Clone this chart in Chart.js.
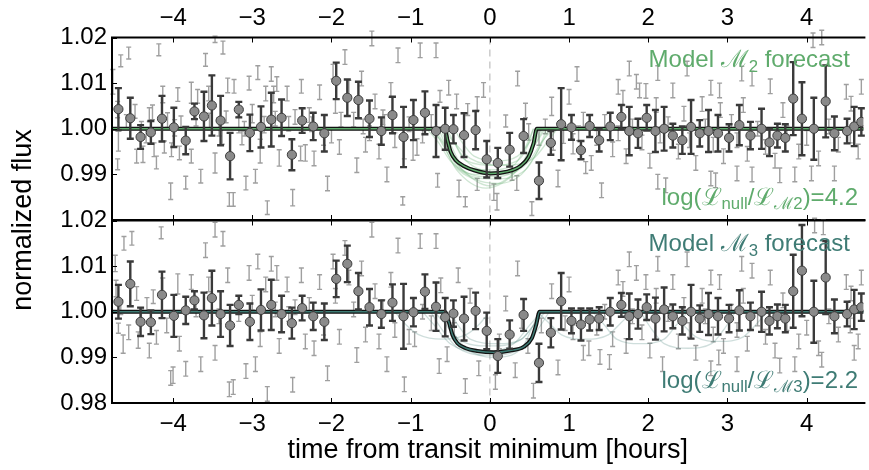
<!DOCTYPE html>
<html>
<head>
<meta charset="utf-8">
<script src="https://cdn.jsdelivr.net/npm/chart.js@4.4.1/dist/chart.umd.min.js"></script>
<style>
  html, body { margin: 0; padding: 0; background: #fff; }
  #wrap { position: relative; width: 869px; height: 470px; }
  #wrap canvas { position: absolute; left: 0; top: 0; }
</style>
</head>
<body>
<div id="wrap">
  <canvas id="panelM2" width="869" height="470"></canvas>
  <canvas id="panelM3" width="869" height="470"></canvas>
</div>
<script>
// ---------------- data ----------------
// flux deviations are in parts per thousand (ppt) around 1.00
const xTickValues = [-4, -3, -2, -1, 0, 1, 2, 3, 4];
const yTickValues = [0.98, 0.99, 1.00, 1.01, 1.02];

// binned photometry, hours from transit minimum
const binTime = [
  -4.69, -4.54, -4.41, -4.28, -4.14, -3.99, -3.84, -3.73, -3.61, -3.51, -3.40, -3.28, -3.17, -3.03, -2.89, -2.76, -2.63, -2.50, -2.37,
  -2.23, -2.09, -1.94, -1.80, -1.66, -1.52, -1.37, -1.23,
  -1.09, -0.965, -0.82, -0.68, -0.564, -0.46, -0.326, -0.18, -0.04, 0.10, 0.25, 0.426, 0.62, 0.77, 0.90, 1.03, 1.15, 1.26,
  1.38, 1.52, 1.66, 1.76, 1.87, 1.98, 2.09, 2.20, 2.31, 2.43, 2.54, 2.65, 2.76, 2.88, 3.02, 3.15, 3.29, 3.43, 3.53, 3.63,
  3.73, 3.83, 3.94, 4.09, 4.24, 4.35, 4.51, 4.60, 4.69
];

// model M2 panel
const binDevM2 = [
  4.3, 2.3, -1.8, -0.8, 2.2, 0.3, -2.6, 3.8, 2.7, 5.1, 1.8, -6.0, 4.2, -0.9, 0.4, 2.0, 2.4, -5.7, 1.8,
  0.5, -1.0, 10.5, 6.8, 6.3, 2.2, -0.5, 3.0,
  -1.8, 1.9, 3.5, -0.5, 0.0, -0.1, -1.4, -0.3, -6.7, -7.5, -4.6, -1.6, -11.4, -3.1, 1.0, 0.3, -4.7, 0.6,
  -2.5, 0.5, 2.6, -0.5, -1.0, 2.4, -0.5, 0.0, -1.5, -2.5, 0.4, -1.0, -0.5, -1.0, -2.0, 0.8, -1.5, 0.0, -3.0, -1.5,
  -2.0, 6.6, 2.2, 0.0, 6.0, -1.0, -0.5, 0.5, 1.5
];
const binErrM2 = [
  4.6, 4.5, 2.6, 2.5, 5.0, 4.3, 3.0, 1.7, 5.4, 6.6, 5.4, 5.1, 1.7, 4.0, 4.5, 5.9, 4.0, 3.4, 2.7,
  3.0, 4.0, 4.0, 4.0, 4.0, 4.0, 3.0, 4.0,
  6.6, 4.4, 4.7, 5.7, 4.6, 3.1, 4.8, 4.2, 4.0, 3.3, 3.7, 3.7, 4.0, 2.6, 7.9, 2.7, 2.0, 2.4,
  2.5, 3.0, 2.6, 5.3, 3.2, 2.8, 4.6, 4.8, 2.6, 3.0, 5.9, 2.9, 4.6, 4.0, 3.0, 4.4, 3.0, 4.4, 3.0, 2.6,
  3.0, 8.0, 8.0, 6.8, 7.9, 3.7, 2.7, 4.3, 3.0
];

// model M3 panel
const binDevM3 = [
  2.2, 6.1, -2.2, -2.3, 3.7, -0.9, 0.3, 2.5, -0.8, 3.0, -0.5, -3.0, 1.5, -2.2, 0.4, 1.5, -0.5, -2.5, 0.8,
  -1.0, -2.2, 7.2, 10.5, 4.5, 1.0, -0.5, 2.0,
  -1.0, -0.1, 4.4, 1.1, -1.2, -0.4, -1.5, 0.2, -4.2, -9.7, -5.0, -0.7, -11.2, -4.6, 2.3, -2.0, -2.8, -1.7,
  -1.5, 0.0, 1.5, -1.0, -0.5, 1.0, -1.5, 0.5, -1.0, -2.0, 0.0, -1.5, -0.5, -1.0, -1.5, 0.3, -1.0, 0.0, -2.0, -1.0,
  -1.5, 4.5, 9.0, 0.0, 7.5, -1.0, -0.5, 0.5, 1.0
];
const binErrM3 = [
  3.7, 4.9, 3.1, 2.6, 5.1, 4.6, 3.0, 2.0, 5.0, 6.0, 5.0, 4.5, 2.0, 4.0, 4.5, 5.5, 4.0, 3.4, 2.7,
  3.0, 4.0, 4.0, 4.0, 4.0, 4.0, 3.0, 4.0,
  7.1, 3.1, 3.8, 5.3, 4.2, 2.9, 4.8, 4.0, 4.0, 3.7, 3.1, 3.5, 4.2, 3.2, 6.2, 2.7, 3.5, 2.4,
  2.5, 3.0, 2.6, 5.0, 3.2, 2.8, 4.6, 4.8, 2.6, 3.0, 5.9, 2.9, 4.6, 4.0, 3.0, 4.4, 3.0, 4.4, 3.0, 2.6,
  3.0, 8.0, 10.0, 6.8, 8.0, 3.7, 2.7, 4.3, 3.0
];

// unbinned photometry (M2 panel); errors not listed default to 1.6 ppt
const rawTimeM2 = [
  -4.76, -4.66, -4.56, -4.18, -3.59, -3.47, -3.37, -4.70, -4.69, -4.70, -4.48, -4.46, -4.38, -4.34, -4.26, -4.24, -4.21, -4.13, -4.11, -4.03,
  -4.02, -3.94, -3.92, -3.84, -3.77, -3.77, -3.69, -3.65, -3.55, -3.47, -3.38, -3.31, -3.29, -3.24, -3.23, -3.13, -3.08, -3.04, -2.96, -2.93,
  -2.90, -2.83, -2.81, -2.76, -2.73, -2.69, -2.66, -2.56, -2.49, -2.38, -2.39, -2.33,
  -4.59, -4.40, -4.30, -4.07, -3.98, -3.90, -3.71, -3.54, -3.42, -3.33, -3.17, -3.10, -3.00, -2.85, -2.71, -2.54, -2.46,
  -1.08, -0.97, -0.92, -1.10, -0.66, -0.63, -0.39, -0.31, -0.28, -0.16, -0.16, 0.05, 0.09, 0.20, 0.28, 0.34, 0.49, 0.53, 0.78, 0.80,
  0.86, 0.93, 1.05, 1.21, 1.28,
  -1.02, -0.85, -0.74, 0.62, 0.70, 1.12, 1.18, -0.88, -0.68, -0.52, -0.42, -0.08, 0.35, 0.45, 1.00, 1.10,
  -2.28, -2.22, -2.15, -2.10, -2.05, -1.98, -1.95, -1.90, -1.83, -1.78, -1.72, -1.68, -1.62, -1.57, -1.49, -1.45, -1.40, -1.35, -1.30, -1.25,
  -1.20, -1.16, -2.25, -2.00, -1.88, -1.60, -1.52, -1.33,
  1.62, 1.68, 1.76, 1.85, 1.89, 1.97, 2.12, 2.10, 2.31, 2.45, 2.49, 2.68, 2.79, 2.90, 2.91, 3.18, 3.20, 3.31, 3.54, 3.70,
  4.08, 4.19, 4.50, 4.56, 4.69,
  1.41, 2.12, 2.22, 2.79, 2.85, 3.12, 3.31, 3.66, 3.85, 4.06, 4.35,
  1.35, 1.45, 1.55, 1.62, 1.72, 1.80, 1.92, 2.02, 2.15, 2.25, 2.38, 2.52, 2.60, 2.72, 2.82, 2.95, 3.05, 3.12, 3.25, 3.38,
  3.48, 3.60, 3.75, 3.90, 4.00, 4.15, 4.28, 4.40, 4.55, 4.65
];
const rawDevM2 = [
  10.3, 14.9, 16.6, 17.3, 15.1, 19.6, 17.8, 4.2, -2.7, -7.8, 3.8, -6.0, -5.6, -1.6, 3.6, -4.6, -7.4, 7.5, -4.0, -13.7,
  -4.6, 7.5, -5.3, -11.8, 7.9, -6.0, 7.1, -10.4, 7.7, -7.5, -1.6, 9.5, -15.5, -15.5, 9.3, -2.0, -11.9, 10.0, -10.4, 12.3,
  -4.9, 7.7, -17.3, 12.0, 7.5, 9.8, -6.4, 7.7, -15.1, 9.3, -5.4, -5.3,
  1.5, 0.0, 3.1, 1.9, 0.2, 1.3, 2.2, 1.6, 0.4, 2.6, 0.9, 0.0, 3.3, 0.9, 2.2, 1.1, 2.6,
  -4.6, -4.7, -4.0, -15.8, -11.3, 7.1, -13.1, -16.0, 4.2, 5.5, -12.2, -13.9, -16.0, 1.7, -10.2, -11.9, -0.7, -17.5, 4.9, -2.5,
  -10.9, -1.4, -3.3, -8.5, -7.5,
  1.0, -1.5, 1.5, -2.0, 0.5, -1.0, 2.0, 17.2, 17.2, 9.0, 6.0, 8.5, 11.0, 4.0, 7.0, 12.0,
  3.0, -6.5, 8.0, -2.0, -12.0, 12.5, 5.0, -4.0, 15.7, 9.0, 2.0, -8.0, 11.0, -3.5, 19.8, 6.0, -5.0, 2.5, -10.0, 8.5,
  -2.5, 16.1, 1.0, -1.5, 2.0, 0.5, -1.0, 1.5,
  9.2, 6.8, 13.2, 10.3, 8.4, 8.3, 12.2, 5.2, 8.4, 3.3, 13.2, 5.4, 9.0, 8.4, 4.1, 12.1, 5.2, 11.0, 9.3, 4.1,
  19.4, 20.0, 8.1, 5.5, 9.2,
  -13.5, -11.6, -12.4, -10.9, -11.3, -9.8, -10.0, -10.2, -10.0, -9.8, -9.8,
  -2.0, 1.5, -4.5, -1.0, -6.0, 0.5, -3.0, -7.0, -1.5, 1.0, -5.0, -2.5, -7.5, 0.5, -3.5, -6.0, 1.5, -2.5, -5.5, 0.0,
  -4.0, -7.0, -1.0, -5.0, -2.0, -6.5, 0.5, -3.5, -1.5, -5.0
];
const rawErrM2 = [
  2.7, 1.3, 1.3, 1.3, 1.4, 0.7, 1.4, 1.8, 2.2, 1.2, 1.5, 1.5, 1.8, 1.5, 1.6, 1.5, 1.4, 1.8, 1.3, 1.8,
  1.5, 1.5, 1.5, 1.4, 2.3, 1.5, 1.5, 1.5, 1.6, 2.2, 1.8, 1.6, 1.5, 1.5, 1.5, 1.5, 1.5, 1.5, 1.5, 1.5,
  2.6, 1.6, 1.5, 1.6, 1.8, 1.6, 1.8, 1.6, 1.8, 1.5, 1.6, 1.8,
  1.6, 1.6, 1.5, 1.6, 1.8, 1.5, 1.6, 1.8, 2.0, 1.3, 1.8, 1.6, 2.0, 1.8, 1.6, 1.6, 1.6,
  2.0, 2.2, 1.8, 0.9, 1.5, 1.3, 1.8, 1.1, 1.3, 1.5, 1.3, 1.8, 1.8, 1.3, 1.1, 1.6, 1.8, 1.5, 2.0, 2.2,
  1.8, 1.8, 2.2, 1.3, 1.6
];

// unbinned photometry (M3 panel); errors not listed default to 1.6 ppt
const rawTimeM3 = [
  -4.73, -4.62, -4.52, -4.15, -4.72, -4.66, -4.69, -4.63, -4.46, -4.44, -4.25, -4.21, -4.00, -3.94,
  -4.56, -4.40, -4.33, -4.30, -4.13, -4.08, -4.03, -3.92, -3.84, -3.77, -3.71, -3.65, -3.59, -3.55, -3.47, -3.47,
  -3.42, -3.37, -3.31, -3.29, -3.24, -3.17, -3.08, -3.04, -3.00, -2.96, -2.93, -2.90, -2.83, -2.81, -2.76, -2.71,
  -2.69, -2.66, -2.56, -2.54, -2.49, -2.46, -2.38, -2.33,
  -2.28, -2.22, -2.15, -2.10, -2.05, -1.98, -1.95, -1.90, -1.83, -1.78, -1.72, -1.68, -1.62, -1.57, -1.49, -1.45,
  -1.40, -1.35, -1.30, -1.25, -1.20, -1.16,
  -1.08, -0.64, -0.54, -0.31, -0.14, 0.07, 0.32, 0.55, 0.86, 1.18, -0.62, 0.20, 0.78, -1.02, -0.95, -0.85,
  -0.74, -0.45, -0.25, -0.05, 0.12, 0.40, 0.48, 0.65, 0.95, 1.05, 1.25, -0.88, -0.68, -0.40, 0.35, 1.00,
  1.39, 1.51, 2.18, 2.89, 4.19, 4.60, 4.10, 4.21, 1.62, 1.68, 1.76, 1.85, 1.97, 2.12, 2.10, 2.31, 2.45, 2.49,
  2.68, 2.79, 2.90, 3.18, 3.20, 3.31, 3.54, 3.70, 4.50, 4.56, 4.69, 1.35, 1.45, 1.55, 1.72, 1.80, 1.92, 2.02,
  2.25, 2.38, 2.52, 2.60, 2.72, 2.82, 2.95, 3.05, 3.12, 3.25, 3.38, 3.48, 3.60, 3.75, 3.90, 4.00, 4.15, 4.28,
  4.40, 4.55, 4.65, 3.12, 3.66, 3.85, 2.79
];
const rawDevM3 = [
  10.6, 15.0, 16.1, 17.3, 5.1, 1.0, -3.6, -7.1, 4.0, -6.2, 3.3, -5.6, -13.9, 6.1,
  -4.5, -1.0, 1.5, -8.5, 5.8, -3.0, -14.5, -7.0, -12.5, 6.5, 0.5, -11.5, 13.5, 6.0, 18.0, -9.0,
  -1.0, 16.0, 8.0, -17.0, -16.5, -0.5, -13.0, 8.5, 2.0, -11.5, 11.0, -6.0, 6.0, -18.0, 10.5, 0.5,
  8.5, -7.5, 6.0, -0.5, -16.0, 1.0, 8.0, -6.5,
  1.5, -8.0, 6.5, -3.5, -13.5, 11.0, 3.5, -5.5, 14.0, 7.5, 0.5, -9.5, 9.5, -5.0, 18.0, 4.5,
  -6.5, 1.0, -11.5, 7.0, -4.0, 14.5,
  -15.9, -11.9, -9.3, -16.3, -12.4, -15.4, -12.8, -17.3, -12.2, -9.0, 5.8, 1.8, 4.5, -5.5, -6.0, 0.0,
  -2.5, -4.0, 3.5, -3.0, -6.5, -2.0, -7.5, -3.0, -2.5, -4.5, -8.0, 15.5, 15.5, 8.0, 9.5, 6.0,
  -9.9, -11.0, -11.5, -10.0, -10.5, -9.0, 18.9, 18.5, 7.5, 5.0, 11.5, 8.5, 6.5, 10.5, 3.5, 6.5, 1.5, 11.5,
  3.5, 7.5, 6.5, 10.5, 3.5, 9.0, 7.5, 2.5, 6.5, 4.0, 7.5, -3.5, 0.0, -6.0, -7.5, -1.0, -4.5, -8.5,
  -0.5, -6.5, -4.0, -9.0, -1.0, -5.0, -7.5, 0.0, -4.0, -7.0, -1.5, -5.5, -8.5, -2.5, -6.5, -3.5, -8.0, -1.0,
  -5.0, -3.0, -6.5, -11.5, -11.8, -11.5, -12.4
];
const rawErrM3 = [
  1.8, 1.5, 1.5, 1.3, 1.8, 1.6, 1.1, 2.0, 1.5, 1.8, 1.5, 1.5, 1.8, 2.2
];

// best-fit transit models
const modelTimeM2 = [-4.8, -0.57, -0.535, -0.494, -0.43, -0.326, -0.2, 0.008, 0.217, 0.384, 0.488, 0.55, 0.593, 4.8];
const modelDevM2  = [0, 0, -2.5, -5.1, -6.9, -8.2, -9.1, -9.8, -9.4, -8.2, -6.2, -3.3, 0, 0];
const modelTimeM3 = [-4.8, -0.568, -0.514, -0.472, -0.41, -0.305, -0.16, 0.05, 0.258, 0.426, 0.53, 0.584, 0.627, 4.8];
const modelDevM3  = [0, 0, -2.5, -5.1, -6.9, -8.0, -8.6, -8.9, -8.5, -7.7, -5.8, -2.9, 0, 0];

// posterior draws shown behind the best fit
const drawsM2 = [
  { t: [-0.75, -0.6, -0.45, -0.2, 0.1, 0.4, 0.6, 0.75], d: [0, -3, -8, -11, -12, -10, -5, 0] },
  { t: [-0.62, -0.5, -0.35, 0, 0.35, 0.5, 0.62], d: [0, -5, -9, -10.5, -9, -5, 0] },
  { t: [-0.5, -0.42, -0.3, 0.05, 0.35, 0.47, 0.55], d: [0, -4, -7, -8, -7, -4, 0] },
  { t: [-0.7, -0.55, -0.4, 0, 0.4, 0.55, 0.7], d: [0, -4, -8, -12.5, -8, -4, 0] },
  { t: [-0.45, -0.35, -0.2, 0.1, 0.35, 0.5, 0.6], d: [0, -3, -6, -7, -6, -3, 0] },
  { t: [-0.8, -0.65, -0.5, -0.2, 0.2, 0.5, 0.65, 0.8], d: [0, -3, -7, -10, -10, -7, -3, 0] },
  { t: [-0.58, -0.48, -0.35, 0, 0.3, 0.45, 0.55], d: [0, -4, -8, -9, -8, -4, 0] },
  { t: [-0.65, -0.52, -0.38, 0.05, 0.45, 0.6, 0.72], d: [0, -5, -9, -11, -9, -5, 0] },
  { t: [-0.55, -0.45, -0.3, 0.1, 0.45, 0.58, 0.68], d: [0, -3, -7, -9.5, -7, -3, 0] },
  { t: [-0.72, -0.58, -0.42, -0.05, 0.35, 0.52, 0.66], d: [0, -4, -9, -13, -9, -4, 0] },
  { t: [-0.6, -0.45, -0.25, 0.15, 0.55, 0.72, 0.85], d: [0, -3, -6.5, -8, -6.5, -3, 0] }
];
const drawsM3 = [
  { t: [-0.75, -0.6, -0.4, 0, 0.4, 0.6, 0.75], d: [0, -4, -8, -9.5, -8, -4, 0] },
  { t: [-0.5, -0.4, -0.25, 0.1, 0.4, 0.55, 0.65], d: [0, -3, -6, -7, -6, -3, 0] },
  { t: [1.3, 1.45, 1.6, 1.9, 2.2, 2.35, 2.5], d: [0, -3, -6, -7, -6, -3, 0] },
  { t: [1.9, 2.05, 2.2, 2.5, 2.8, 2.95, 3.1], d: [0, -4, -7, -8, -7, -4, 0] },
  { t: [-1.2, -1.05, -0.9, -0.6, -0.3, -0.15, 0], d: [0, -3, -5, -6, -5, -3, 0] },
  { t: [-0.7, -0.55, -0.4, 0, 0.4, 0.55, 0.7], d: [0, -3, -6, -7.5, -6, -3, 0] },
  { t: [-0.85, -0.7, -0.5, -0.1, 0.3, 0.5, 0.65], d: [0, -3, -7, -9, -7, -3, 0] },
  { t: [0.6, 0.75, 0.9, 1.2, 1.5, 1.65, 1.8], d: [0, -2.5, -5, -6, -5, -2.5, 0] },
  { t: [2.3, 2.45, 2.6, 2.9, 3.2, 3.35, 3.5], d: [0, -3, -5.5, -6.5, -5.5, -3, 0] },
  { t: [-0.6, -0.48, -0.3, 0.05, 0.4, 0.52, 0.62], d: [0, -4, -8, -10, -8, -4, 0] }
];

// ---------------- helpers ----------------
const FONT = '"Liberation Sans", Arial, Helvetica, sans-serif';
const X_MIN = -4.771, X_MAX = 4.716;

function points(t, dev, err, errDefault) {
  return t.map((v, i) => ({
    x: v,
    y: 1 + dev[i] / 1000,
    err: (err && err[i] !== undefined ? err[i] : (errDefault || 0)) / 1000
  }));
}

// error bars drawn underneath each dataset that asks for them
const errorBarPlugin = {
  id: 'errorBars',
  beforeDatasetDraw(chart, args) {
    const ds = chart.data.datasets[args.index];
    if (!ds.errorBar) return;
    const { ctx, scales } = chart;
    const eb = ds.errorBar;
    ctx.save();
    ctx.strokeStyle = eb.color;
    ctx.lineWidth = eb.width;
    ctx.beginPath();
    ds.data.forEach(p => {
      const x = scales.x.getPixelForValue(p.x);
      const y1 = scales.y.getPixelForValue(p.y + p.err);
      const y2 = scales.y.getPixelForValue(p.y - p.err);
      ctx.moveTo(x, y1); ctx.lineTo(x, y2);
      ctx.moveTo(x - eb.cap, y1); ctx.lineTo(x + eb.cap, y1);
      ctx.moveTo(x - eb.cap, y2); ctx.lineTo(x + eb.cap, y2);
    });
    ctx.stroke();
    ctx.restore();
  }
};

// frame, inward ticks and transit-minimum marker
const framePlugin = {
  id: 'frame',
  beforeDatasetsDraw(chart) {
    const { ctx, chartArea: a, scales } = chart;
    const x0 = scales.x.getPixelForValue(0);
    ctx.save();
    ctx.strokeStyle = '#b0b0b0';
    ctx.lineWidth = 1;
    ctx.setLineDash([7, 5]);
    ctx.beginPath();
    ctx.moveTo(x0, a.top); ctx.lineTo(x0, a.bottom);
    ctx.stroke();
    ctx.restore();
  },
  afterDraw(chart) {
    const { ctx, chartArea: a, scales } = chart;
    ctx.save();
    ctx.strokeStyle = '#000';
    ctx.lineWidth = 1;
    ctx.beginPath();
    xTickValues.forEach(v => {
      const x = Math.round(scales.x.getPixelForValue(v)) + 0.5;
      ctx.moveTo(x, a.top); ctx.lineTo(x, a.top + 5);
      ctx.moveTo(x, a.bottom); ctx.lineTo(x, a.bottom - 5);
    });
    yTickValues.forEach(v => {
      const y = Math.round(scales.y.getPixelForValue(v)) + 0.5;
      ctx.moveTo(a.left, y); ctx.lineTo(a.left + 5, y);
    });
    ctx.stroke();
    ctx.lineWidth = 2;
    ctx.beginPath();
    ctx.moveTo(a.right + 2, a.top); ctx.lineTo(a.left, a.top);
    ctx.lineTo(a.left, a.bottom); ctx.lineTo(a.right + 2, a.bottom);
    ctx.stroke();
    ctx.restore();
  }
};

// text runs: [text, sizeScale, baselineShift], right-aligned
function drawRuns(ctx, runs, right, baseline, size, color) {
  ctx.save();
  ctx.fillStyle = color;
  ctx.textBaseline = 'alphabetic';
  ctx.textAlign = 'left';
  let total = 0;
  runs.forEach(r => { ctx.font = (size * r[1]) + 'px ' + FONT; total += ctx.measureText(r[0]).width; });
  let x = right - total;
  runs.forEach(r => {
    ctx.font = (size * r[1]) + 'px ' + FONT;
    ctx.fillText(r[0], x, baseline + r[2]);
    x += ctx.measureText(r[0]).width;
  });
  ctx.restore();
}

function labelPlugin(o) {
  return {
    id: 'labels',
    afterDraw(chart) {
      const ctx = chart.ctx;
      drawRuns(ctx, [['Model ', 1, 0], ['\u2133', 1, 0], [o.idx, 0.7, 5], [' forecast', 1, 0]], 850, o.labelY, 24, o.color);
      drawRuns(ctx, [['log(', 1, 0], ['\u2112', 1, 0], ['null', 0.7, 4], ['/', 1, 0], ['\u2112', 1, 0],
        ['\u2133' + o.idx, 0.7, 4], [')=' + o.ratioText, 1, 0]], 858, o.ratioY, 24, o.color);
      if (o.yTitle) {
        ctx.save();
        ctx.translate(24, 220);
        ctx.rotate(-Math.PI / 2);
        ctx.font = '27px ' + FONT;
        ctx.fillStyle = '#000';
        ctx.textAlign = 'center';
        ctx.textBaseline = 'middle';
        ctx.fillText('normalized flux', 0, 0);
        ctx.restore();
      }
    }
  };
}

function fmtX(v) {
  return v < 0 ? '\u2212' + Math.abs(v) : String(v);
}

function buildChart(id, o) {
  const datasets = [
    { label: 'binned', data: points(binTime, o.binD, o.binE), showLine: false, order: 0,
      pointRadius: 4.6, pointBackgroundColor: '#8a8a8a', pointBorderColor: '#3c3c3c', pointBorderWidth: 1,
      errorBar: { color: '#3a3a3a', width: 2.4, cap: 3.5 } },
    { label: 'model', data: points(o.modT, o.modD), showLine: true, order: 1, pointRadius: 0,
      borderColor: o.color, borderWidth: 1.4, cubicInterpolationMode: 'monotone' },
    { label: 'model outline', data: points(o.modT, o.modD), showLine: true, order: 2, pointRadius: 0,
      borderColor: '#111', borderWidth: 4, cubicInterpolationMode: 'monotone' }
  ];
  o.draws.forEach((d, i) => datasets.push({
    label: 'draw ' + i, data: points(d.t, d.d), showLine: true, order: 3, pointRadius: 0,
    borderColor: o.faint, borderWidth: 1.3, cubicInterpolationMode: 'monotone'
  }));
  datasets.push({ label: 'raw', data: points(o.rawT, o.rawD, o.rawE, 1.6), showLine: false, order: 5, pointRadius: 0,
    errorBar: { color: 'rgba(135,135,135,0.8)', width: 1.4, cap: 2.5 } });

  return new Chart(document.getElementById(id), {
    type: 'scatter',
    data: { datasets },
    options: {
      responsive: false,
      animation: false,
      devicePixelRatio: 1,
      layout: { padding: o.padding },
      plugins: { legend: { display: false }, tooltip: { enabled: false } },
      scales: {
        x: {
          type: 'linear', position: o.xPos, min: X_MIN, max: X_MAX,
          afterBuildTicks: s => { s.ticks = xTickValues.map(v => ({ value: v })); },
          afterFit: s => { s.height = o.xHeight; },
          grid: { display: false, drawTicks: false },
          border: { display: false },
          ticks: { color: '#000', font: { family: FONT, size: 24 }, padding: o.xPad, maxRotation: 0, autoSkip: false, callback: fmtX },
          title: { display: o.xTitle, text: 'time from transit minimum [hours]', color: '#000',
            font: { family: FONT, size: 27 }, padding: { top: 0, bottom: 3 } }
        },
        y: {
          type: 'linear', min: 0.98, max: 1.02,
          afterBuildTicks: s => { s.ticks = yTickValues.map(v => ({ value: v })); },
          afterFit: s => { s.width = 112; },
          grid: { display: false, drawTicks: false },
          border: { display: false },
          ticks: { color: '#000', font: { family: FONT, size: 24 }, padding: 5,
            callback: v => (o.hideLow && v < 0.985) ? '' : v.toFixed(2) }
        }
      }
    },
    plugins: [errorBarPlugin, framePlugin, labelPlugin(o)]
  });
}

buildChart('panelM2', {
  binD: binDevM2, binE: binErrM2,
  rawT: rawTimeM2, rawD: rawDevM2, rawE: rawErrM2,
  modT: modelTimeM2, modD: modelDevM2, draws: drawsM2,
  color: '#5fab6c', faint: 'rgba(95,171,108,0.3)', idx: '2', labelY: 67, ratioY: 205, ratioText: '4.2',
  xPos: 'top', xHeight: 37.5, xPad: 5, xTitle: false, hideLow: true, yTitle: false,
  padding: { top: 0, bottom: 250, left: 0, right: 0 }
});

buildChart('panelM3', {
  binD: binDevM3, binE: binErrM3,
  rawT: rawTimeM3, rawD: rawDevM3, rawE: rawErrM3,
  modT: modelTimeM3, modD: modelDevM3, draws: drawsM3,
  color: '#3f7c75', faint: 'rgba(63,124,117,0.25)', idx: '3', labelY: 251, ratioY: 388, ratioText: '2.2',
  xPos: 'bottom', xHeight: 67, xPad: 7, xTitle: true, hideLow: false, yTitle: true,
  padding: { top: 220.5, bottom: 0, left: 0, right: 0 }
});
</script>
</body>
</html>
